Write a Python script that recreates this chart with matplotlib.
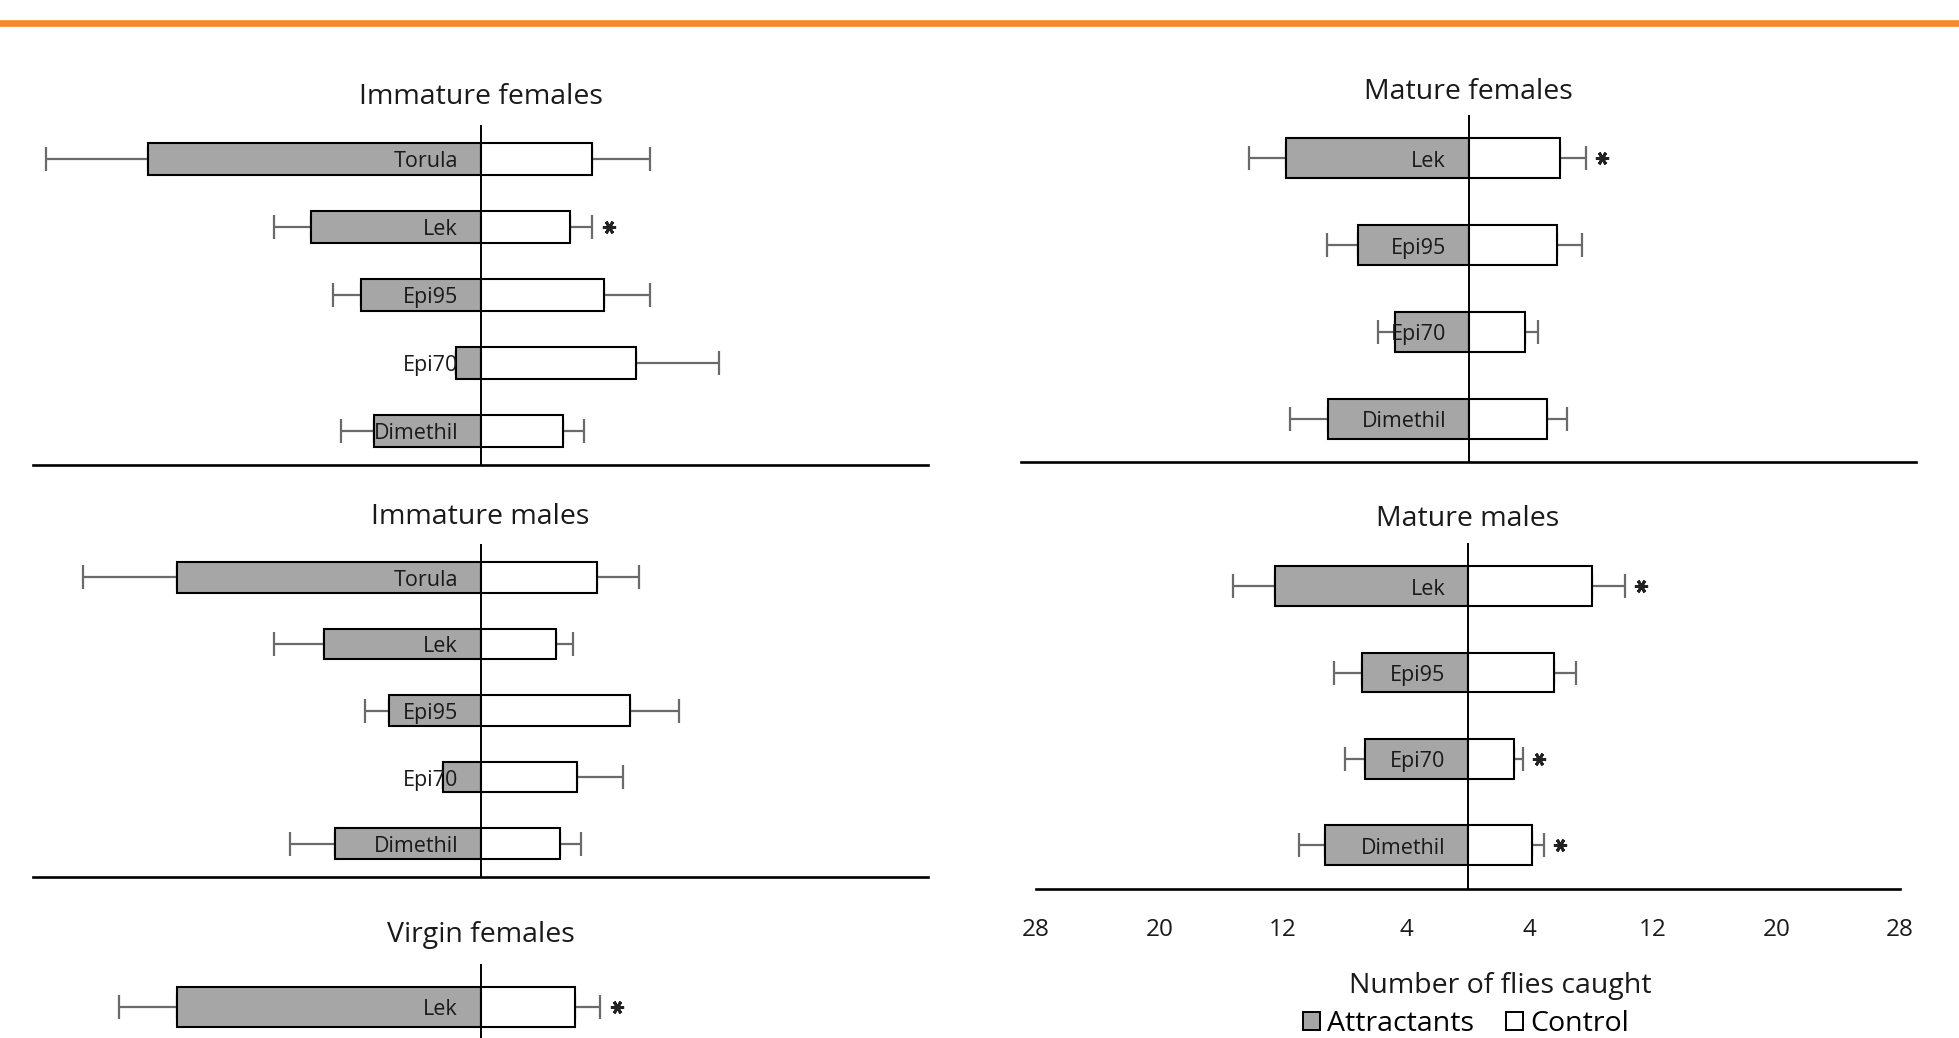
import matplotlib
matplotlib.use('Agg')
import matplotlib.pyplot as plt
from matplotlib.patches import Patch
from matplotlib.lines import Line2D
from matplotlib.transforms import offset_copy

##### DATA #####

# Immature females
imm_f_labels = ['Torula', 'Lek', 'Epi95', 'Epi70', 'Dimethil']
imm_f_attract = [20.8, 10.6, 7.5, 1.55, 6.65]
imm_f_attract_err = [6.4, 2.3, 1.7, 0.0, 2.05]
imm_f_control = [7.0, 5.6, 7.7, 9.7, 5.15]
imm_f_control_err = [3.6, 1.4, 2.9, 5.2, 1.3]
imm_f_sig = ['Lek']

# Immature males
imm_m_labels = ['Torula', 'Lek', 'Epi95', 'Epi70', 'Dimethil']
imm_m_attract = [19.0, 9.8, 5.7, 2.35, 9.1]
imm_m_attract_err = [5.9, 3.15, 1.5, 0.0, 2.8]
imm_m_control = [7.3, 4.75, 9.35, 6.05, 4.95]
imm_m_control_err = [2.6, 1.05, 3.1, 2.85, 1.35]
imm_m_sig = []

# Virgin females (only the first row is visible)
virgin_labels = ['Lek']
virgin_attract = [19.0]
virgin_attract_err = [3.6]
virgin_control = [5.9]
virgin_control_err = [1.6]
virgin_sig = ['Lek']

# Mature females
mat_f_labels = ['Lek', 'Epi95', 'Epi70', 'Dimethil']
mat_f_attract = [11.4, 6.9, 4.6, 8.8]
mat_f_attract_err = [2.35, 1.95, 1.05, 2.4]
mat_f_control = [5.7, 5.55, 3.55, 4.9]
mat_f_control_err = [1.65, 1.55, 0.8, 1.25]
mat_f_sig = ['Lek']

# Mature males
mat_m_labels = ['Lek', 'Epi95', 'Epi70', 'Dimethil']
mat_m_attract = [12.5, 6.85, 6.7, 9.25]
mat_m_attract_err = [2.75, 1.85, 1.3, 1.7]
mat_m_control = [8.05, 5.6, 2.95, 4.15]
mat_m_control_err = [2.1, 1.4, 0.6, 0.75]
mat_m_sig = ['Lek', 'Epi70', 'Dimethil']

tick_values = [-28, -20, -12, -4, 4, 12, 20, 28]

##### STYLE #####

W, H, DPI = 1959, 1038, 100
GREY = '#A6A6A6'
ERR = '#6A6A6A'
plt.rcParams['font.family'] = ['Open Sans', 'DejaVu Sans']

fig = plt.figure(figsize=(W / DPI, H / DPI), dpi=DPI)


def px_box(x0, top, x1, bottom):
    return [x0 / W, 1 - bottom / H, (x1 - x0) / W, (bottom - top) / H]


def draw_panel(box, title, title_pad, labels, attract, attract_err,
               control, control_err, sig, nslots=None, ticks=False):
    ax = fig.add_axes(px_box(*box))
    n = len(labels)
    nslots = nslots or n
    y = list(range(n))
    bar_kw = dict(height=0.46, edgecolor='black', linewidth=1.5, zorder=2,
                  error_kw=dict(ecolor=ERR, elinewidth=1.6, capsize=8.6,
                                capthick=1.6, zorder=1))
    ax.barh(y, [-a for a in attract], color=GREY,
            xerr=[attract_err, [0] * n], **bar_kw)
    ax.barh(y, control, color='white',
            xerr=[[0] * n, control_err], **bar_kw)
    ax.axvline(0, color='black', lw=1.4, zorder=3)

    for i, lab in enumerate(labels):
        ax.annotate(lab, xy=(0, i), xytext=(-16.2, -6.1),
                    textcoords='offset points', ha='right', va='baseline',
                    fontsize=15.5, color='#1a1a1a', zorder=4)

    star_tr = offset_copy(ax.transData, fig, x=11.8, y=0, units='points')
    for lab in sig:
        i = labels.index(lab)
        ax.plot(control[i] + control_err[i], i, marker=(6, 2, 90), ms=9.5,
                mew=2.1, color='#222222', transform=star_tr, zorder=4,
                clip_on=False)

    ax.annotate(title, xy=(0.5, 1), xycoords='axes fraction',
                xytext=(0, title_pad), textcoords='offset points',
                ha='center', va='baseline', fontsize=20.5, color='#1a1a1a')

    ax.set_xlim(-28, 28)
    ax.set_ylim(nslots - 0.5, -0.5)
    ax.set_yticks([])
    for side in ['top', 'left', 'right']:
        ax.spines[side].set_visible(False)
    ax.spines['bottom'].set_linewidth(1.9)
    if ticks:
        ax.set_xticks(tick_values)
        ax.set_xticklabels([str(abs(v)) for v in tick_values])
        ax.tick_params(axis='x', length=0, pad=21, labelsize=17.5,
                       labelcolor='#1a1a1a')
    else:
        ax.set_xticks([])
    return ax


draw_panel((33, 125, 928, 465), 'Immature females', 15,
           imm_f_labels, imm_f_attract, imm_f_attract_err,
           imm_f_control, imm_f_control_err, imm_f_sig)
draw_panel((33, 544, 928, 877), 'Immature males', 14.5,
           imm_m_labels, imm_m_attract, imm_m_attract_err,
           imm_m_control, imm_m_control_err, imm_m_sig)
draw_panel((33, 964, 928, 1308), 'Virgin females', 16,
           virgin_labels, virgin_attract, virgin_attract_err,
           virgin_control, virgin_control_err, virgin_sig, nslots=4)
draw_panel((1021, 115, 1916, 462), 'Mature females', 11.5,
           mat_f_labels, mat_f_attract, mat_f_attract_err,
           mat_f_control, mat_f_control_err, mat_f_sig)
draw_panel((1036, 543, 1900, 888.5), 'Mature males', 12,
           mat_m_labels, mat_m_attract, mat_m_attract_err,
           mat_m_control, mat_m_control_err, mat_m_sig, ticks=True)

fig.text(1500 / W, 1 - 992.5 / H, 'Number of flies caught', ha='center',
         va='baseline', fontsize=20.5, color='#1a1a1a')

handles = [Patch(facecolor=GREY, edgecolor='black', linewidth=1.4),
           Patch(facecolor='white', edgecolor='black', linewidth=1.4)]
fig.legend(handles, ['Attractants', 'Control'], ncol=2, loc='center',
           bbox_to_anchor=(1466 / W, 1 - 1024 / H), frameon=False,
           fontsize=20.5, handlelength=0.6, handleheight=0.6,
           handletextpad=0.25, columnspacing=1.1, borderpad=0)

# orange rule along the top
fig.add_artist(Line2D([0, 1], [1 - 23.4 / H] * 2, transform=fig.transFigure,
                      color='#F58A2B', lw=4.8))

fig.savefig('out.png', dpi=DPI)
